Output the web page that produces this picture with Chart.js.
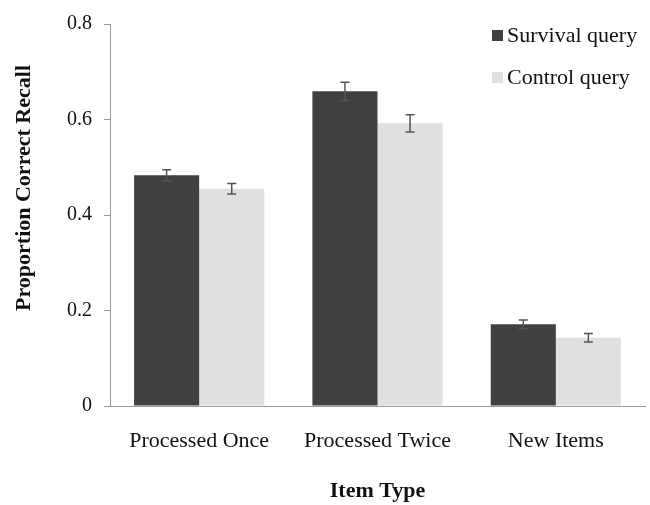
<!DOCTYPE html>
<html>
<head>
<meta charset="utf-8">
<script src="https://cdn.jsdelivr.net/npm/chart.js@4.4.1/dist/chart.umd.min.js"></script>
<style>
  html, body { margin: 0; padding: 0; background: #fff; }
  #wrap { width: 650px; height: 505px; }
</style>
</head>
<body>
<div id="wrap"><canvas id="c" width="650" height="505"></canvas></div>
<script>
// Recall by item type and query condition
const categories = ["Processed Once", "Processed Twice", "New Items"];
const survivalMeans = [0.483, 0.659, 0.171];
const survivalErrors = [0.012, 0.019, 0.009];
const controlMeans = [0.455, 0.592, 0.143];
const controlErrors = [0.011, 0.018, 0.009];
const yTicks = [0, 0.2, 0.4, 0.6, 0.8];
const yTitle = 'Proportion Correct Recall';

const SERIF = "'Liberation Serif', 'Times New Roman', serif";

// Error bars drawn through the scales
const errorBarPlugin = {
  id: 'errorBars',
  afterDatasetsDraw(chart) {
    const ctx = chart.ctx;
    const y = chart.scales.y;
    chart.data.datasets.forEach((ds, i) => {
      const meta = chart.getDatasetMeta(i);
      meta.data.forEach((bar, j) => {
        const v = ds.data[j];
        const e = ds.errors[j];
        const yTop = y.getPixelForValue(v + e);
        const yBot = y.getPixelForValue(v - e);
        const x = bar.x;
        ctx.save();
        ctx.strokeStyle = '#555';
        ctx.lineWidth = 1.5;
        ctx.beginPath();
        ctx.moveTo(x, yTop); ctx.lineTo(x, yBot);
        ctx.moveTo(x - 4.5, yTop); ctx.lineTo(x + 4.5, yTop);
        ctx.moveTo(x - 4.5, yBot); ctx.lineTo(x + 4.5, yBot);
        ctx.stroke();
        ctx.restore();
      });
    });
  }
};

// Legend in the upper right of the plot, and the vertical axis title
const labelsPlugin = {
  id: 'cornerLegend',
  afterDraw(chart) {
    const ctx = chart.ctx;
    ctx.save();
    ctx.font = '22px ' + SERIF;
    ctx.textBaseline = 'middle';
    chart.data.datasets.forEach((ds, i) => {
      const yc = 35 + i * 42;
      ctx.fillStyle = ds.backgroundColor;
      ctx.fillRect(492, yc - 5, 11, 11);
      ctx.fillStyle = '#111';
      ctx.fillText(ds.label, 507, yc + 1);
    });
    ctx.translate(24, 188);
    ctx.rotate(-Math.PI / 2);
    ctx.font = 'bold 22px ' + SERIF;
    ctx.textAlign = 'center';
    ctx.fillText(yTitle, 0, 0);
    ctx.restore();
  }
};

new Chart(document.getElementById('c'), {
  type: 'bar',
  data: {
    labels: categories,
    datasets: [
      { label: 'Survival query', data: survivalMeans, errors: survivalErrors,
        backgroundColor: '#404040', borderWidth: 0 },
      { label: 'Control query', data: controlMeans, errors: controlErrors,
        backgroundColor: '#e0e0e0', borderWidth: 0 }
    ]
  },
  options: {
    responsive: false,
    animation: false,
    devicePixelRatio: 1,
    layout: { padding: { top: 23, right: 5, left: 0, bottom: 0 } },
    plugins: { legend: { display: false }, tooltip: { enabled: false } },
    datasets: { bar: { categoryPercentage: 0.73, barPercentage: 1.0 } },
    scales: {
      x: {
        grid: { display: false, drawTicks: false },
        border: { color: '#999', width: 1 },
        ticks: { color: '#111', font: { family: SERIF, size: 22 }, padding: 22, maxRotation: 0 },
        title: { display: true, text: 'Item Type', color: '#111',
                 font: { family: SERIF, size: 22, weight: 'bold' }, padding: { top: 0, bottom: 0 } },
        afterFit(scale) { scale.height = 99; }
      },
      y: {
        min: 0, max: 0.8,
        afterBuildTicks(scale) { scale.ticks = yTicks.map(v => ({ value: v })); },
        grid: { drawOnChartArea: false, drawTicks: true, tickLength: 6, color: '#999' },
        border: { color: '#999', width: 1 },
        ticks: {
          color: '#111', font: { family: SERIF, size: 20 }, padding: 12,
          callback: v => (v === 0 ? '0' : v.toFixed(1))
        },
        afterFit(scale) { scale.width = 110; }
      }
    }
  },
  plugins: [errorBarPlugin, labelsPlugin]
});
</script>
</body>
</html>
